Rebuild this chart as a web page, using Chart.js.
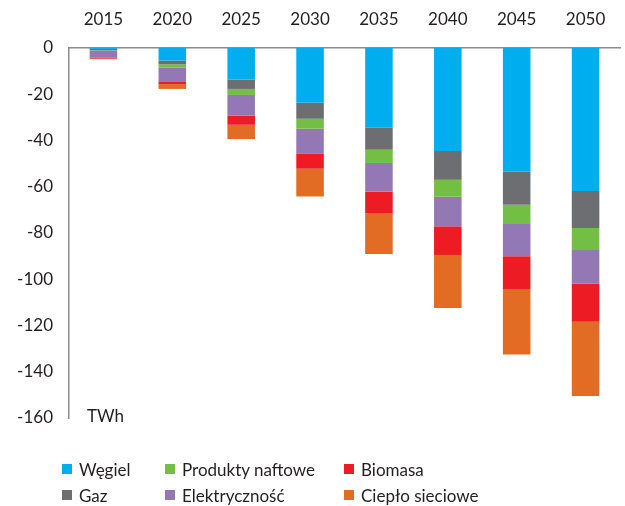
<!DOCTYPE html>
<html>
<head>
<meta charset="utf-8">
<script src="https://cdn.jsdelivr.net/npm/chart.js"></script>
<style>
	body { margin: 0; background: #fff; font-family: Lato, sans-serif; }
	.wrap { position: relative; width: 625px; height: 506px; }
	#legend { position: absolute; left: 62px; top: 458px; display: grid;
		grid-template-rows: 26px 26px; grid-template-columns: 103px 179px 200px;
		grid-auto-flow: column; font-size: 17px; color: #231f20; }
	#legend .item { display: flex; align-items: center; height: 22px; }
	#legend .box { width: 10px; height: 10px; margin-right: 7px; }
</style>
</head>
<body>
<div class="wrap">
	<canvas id="chart" width="625" height="506"></canvas>
	<div id="legend"></div>
</div>
<script>
const years = ['2015', '2020', '2025', '2030', '2035', '2040', '2045', '2050'];
const seriesNames = ['Węgiel', 'Gaz', 'Produkty naftowe', 'Elektryczność', 'Biomasa', 'Ciepło sieciowe'];
const seriesColors = ['#00aeef', '#6d6e71', '#72bf44', '#9478b5', '#ed1c24', '#e36c24'];

// TWh
const wegiel = [-0.4, -5.4, -13.6, -23.7, -34.3, -44.5, -53.5, -61.8];
const gaz = [-0.6, -1.7, -4.1, -6.9, -9.7, -12.5, -14.3, -16.0];
const produkty = [-0.1, -1.3, -2.6, -4.3, -5.7, -7.3, -8.3, -9.6];
const elektrycznosc = [-3.0, -6.0, -9.0, -10.9, -12.4, -12.8, -13.9, -14.4];
const biomasa = [-0.5, -1.2, -3.9, -6.4, -9.4, -12.4, -14.2, -16.6];
const cieplo = [-0.2, -2.1, -6.2, -12.0, -17.6, -22.9, -28.3, -32.1];

const allSeries = [wegiel, gaz, produkty, elektrycznosc, biomasa, cieplo];
const textColor = '#231f20';
const axisColor = '#8c8c8c';

// "TWh" unit label in the bottom-left corner of the plot
const unitLabel = {
	id: 'unitLabel',
	afterDraw(chart) {
		const ctx = chart.ctx;
		const y = chart.scales.y.getPixelForValue(-160);
		ctx.save();
		ctx.font = '17px Lato';
		ctx.fillStyle = textColor;
		ctx.textBaseline = 'middle';
		ctx.fillText('TWh', chart.chartArea.left + 18, y - 1);
		ctx.restore();
	}
};

new Chart(document.getElementById('chart'), {
	type: 'bar',
	data: {
		labels: years,
		datasets: allSeries.map((d, i) => ({
			label: seriesNames[i],
			data: d,
			backgroundColor: seriesColors[i],
			borderWidth: 0,
			categoryPercentage: 1,
			barPercentage: 0.4
		}))
	},
	options: {
		responsive: false,
		animation: false,
		layout: { padding: { left: 0, right: 5, top: 0, bottom: 88 } },
		plugins: { legend: { display: false }, tooltip: { enabled: false } },
		scales: {
			x: {
				position: 'top',
				stacked: true,
				grid: { display: false, drawTicks: false },
				border: { color: axisColor, width: 1.5 },
				ticks: { color: textColor, font: { family: 'Lato', size: 17 }, padding: 18 },
				afterFit(scale) { scale.height = 48; }
			},
			y: {
				stacked: true,
				min: -160,
				max: 0,
				grid: { display: false, drawTicks: false },
				border: { color: axisColor, width: 1.5 },
				ticks: { stepSize: 20, color: textColor, font: { family: 'Lato', size: 17 }, padding: 16 },
				afterFit(scale) { scale.width = 69; }
			}
		}
	},
	plugins: [unitLabel]
});

const legend = document.getElementById('legend');
seriesNames.forEach((name, i) => {
	const item = document.createElement('div');
	item.className = 'item';
	item.innerHTML = '<span class="box" style="background:' + seriesColors[i] + '"></span>' + name;
	legend.appendChild(item);
});
</script>
</body>
</html>
